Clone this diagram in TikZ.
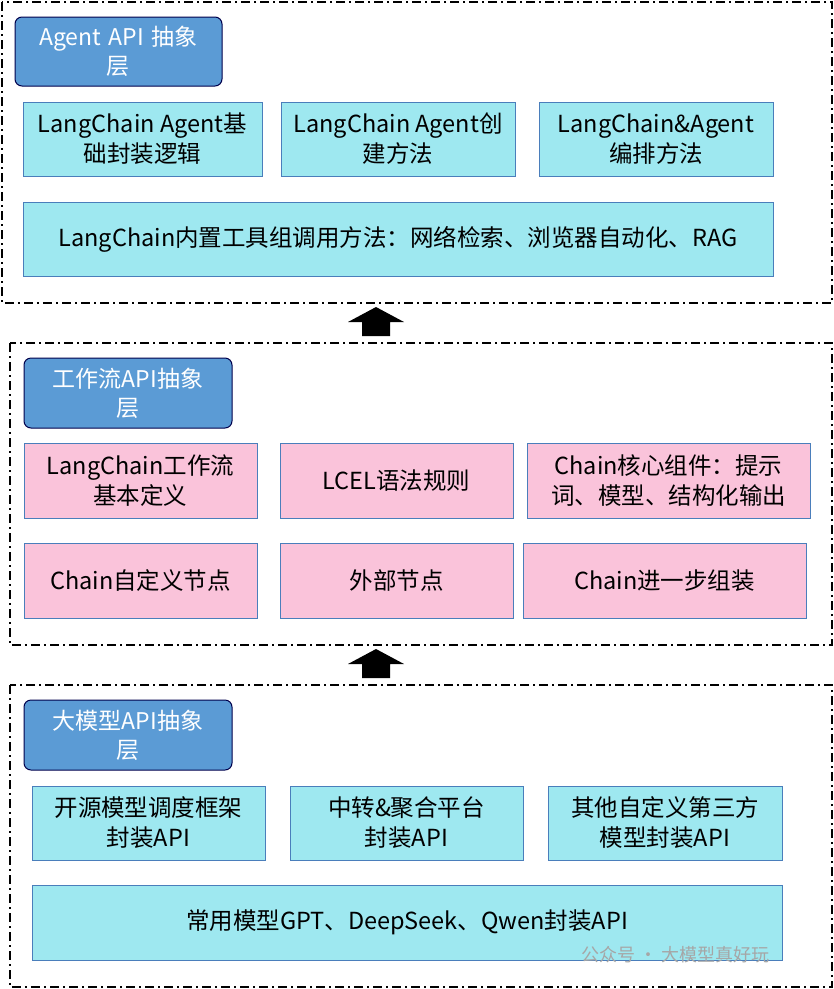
\documentclass[tikz,border=0pt]{standalone}
\usepackage{fontspec}
\setmainfont{Noto Sans CJK SC}
\begin{document}
\begin{tikzpicture}[x=1pt,y=-1pt,
  outer/.style={draw=black,line width=2pt,dash pattern=on 9pt off 4pt on 2pt off 4pt},
  title/.style={draw=black!70!blue,fill=titleblue,rounded corners=7pt,line width=1pt,text=white,align=center,font=\fontsize{23}{29}\selectfont,inner sep=0pt},
  cyanbox/.style={draw=boxedge,fill=boxcyan,line width=1pt,align=center,font=\fontsize{23.5}{30}\selectfont,inner sep=0pt},
  pinkbox/.style={draw=boxedge,fill=boxpink,line width=1pt,align=center,font=\fontsize{23.5}{30}\selectfont,inner sep=0pt},
  uparrow/.style={fill=black}]
\definecolor{titleblue}{HTML}{5B9BD5}
\definecolor{boxcyan}{HTML}{9EE8F0}
\definecolor{boxpink}{HTML}{FAC3DA}
\definecolor{boxedge}{HTML}{4A7EBB}
\useasboundingbox (0,0) rectangle (834,989);
% layer 1
\draw[outer] (2,2) rectangle (832,303);
\node[title,minimum width=207,minimum height=69,text width=170] (t1) at (118.5,51.5) {Agent API 抽象\\层};
\node[cyanbox,minimum width=239,minimum height=74] (a1) at (142.5,139) {LangChain Agent基\\础封装逻辑};
\node[cyanbox,minimum width=234,minimum height=74] (a2) at (398,139) {LangChain Agent创\\建方法};
\node[cyanbox,minimum width=234,minimum height=74] (a3) at (656,139) {LangChain\&Agent\\编排方法};
\node[cyanbox,minimum width=750,minimum height=74] (a4) at (398,239) {LangChain内置工具组调用方法：网络检索、浏览器自动化、RAG};
% arrows
\fill (362,322) -- (362,336) -- (390,336) -- (390,322) -- (404,322) -- (376,307) -- (348,322) -- cycle;
\fill (362,664) -- (362,678) -- (390,678) -- (390,664) -- (404,664) -- (376,649) -- (348,664) -- cycle;
% layer 2
\draw[outer] (10,343) rectangle (832,645);
\node[title,minimum width=208,minimum height=70,text width=170] (t2) at (128,393) {工作流API抽象\\层};
\node[pinkbox,minimum width=233,minimum height=75] (b1) at (140.5,480.5) {LangChain工作流\\基本定义};
\node[pinkbox,minimum width=233,minimum height=75] (b2) at (396.5,480.5) {LCEL语法规则};
\node[pinkbox,minimum width=283,minimum height=75] (b3) at (668.5,480.5) {Chain核心组件：提示\\词、模型、结构化输出};
\node[pinkbox,minimum width=233,minimum height=75] (b4) at (140.5,580.5) {Chain自定义节点};
\node[pinkbox,minimum width=233,minimum height=75] (b5) at (396.5,580.5) {外部节点};
\node[pinkbox,minimum width=283,minimum height=75] (b6) at (664.5,580.5) {Chain进一步组装};
% layer 3
\draw[outer] (10,685) rectangle (832,987);
\node[title,minimum width=208,minimum height=70,text width=170] (t3) at (128,735) {大模型API抽象\\层};
\node[cyanbox,minimum width=233,minimum height=74] (c1) at (148.5,823) {开源模型调度框架\\封装API};
\node[cyanbox,minimum width=233,minimum height=74] (c2) at (406.5,823) {中转\&聚合平台\\封装API};
\node[cyanbox,minimum width=234,minimum height=74] (c3) at (665,823) {其他自定义第三方\\模型封装API};
\node[cyanbox,minimum width=750,minimum height=75] (c4) at (407,922.5) {常用模型GPT、DeepSeek、Qwen封装API};
\node[text=black!35,font=\fontsize{18}{20}\selectfont,anchor=west] (wm) at (578,955) {公众号 · 大模型真好玩};
\end{tikzpicture}
\end{document}
